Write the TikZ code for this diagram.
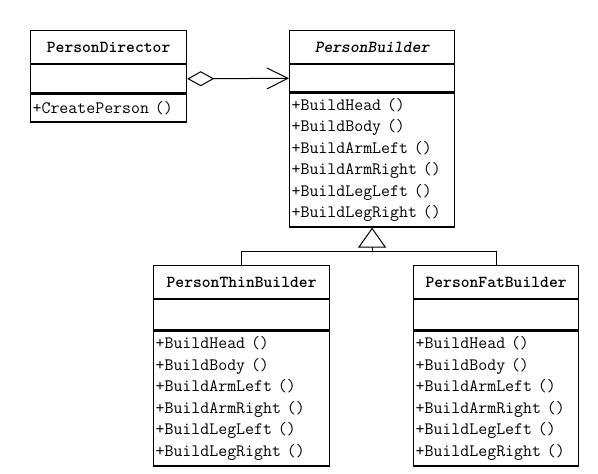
\documentclass[tikz,border=0pt]{standalone}
\usepackage{fontspec}
\newfontfamily\titlefont{lmmonolt10-bold.otf}[ItalicFont=lmmonolt10-boldoblique.otf]
\usetikzlibrary{arrows.meta,positioning}
\begin{document}
\begin{tikzpicture}[x=1pt,y=-1pt,
    part/.style={draw,line width=1.2pt,anchor=north west,inner sep=0pt,font=\fontsize{17.4}{21.5}\selectfont\ttfamily},
    namebox/.style={part,font=\fontsize{16.8}{21.5}\selectfont\titlefont},
    opsbox/.style={part,align=left,inner xsep=2pt},
    link/.style={line width=1pt}]
    \def\buildsteps{+BuildHead ()\\+BuildBody ()\\+BuildArmLeft ()\\+BuildArmRight ()\\+BuildLegLeft ()\\+BuildLegRight ()}
    \useasboundingbox[fill=white] (0,0) rectangle (598,474);
    % director
    \node[namebox,minimum width=156pt,minimum height=33pt] (dirName) at (30,30) {PersonDirector};
    \node[part,minimum width=156pt,minimum height=28pt,below=0pt of dirName] (dirAttr) {};
    \node[opsbox,text width=152pt,minimum height=28pt,below=0pt of dirAttr] (dirOps) {+CreatePerson ()};
    % abstract builder
    \node[namebox,minimum width=165pt,minimum height=33pt] (bldName) at (289,30) {\itshape PersonBuilder};
    \node[part,minimum width=165pt,minimum height=27pt,below=0pt of bldName] (bldAttr) {};
    \node[opsbox,text width=161pt,minimum height=134pt,below=0pt of bldAttr] (bldOps) {\buildsteps};
    % concrete builders
    \node[namebox,minimum width=176pt,minimum height=33pt] (thinName) at (153,265) {PersonThinBuilder};
    \node[part,minimum width=176pt,minimum height=30pt,below=0pt of thinName] (thinAttr) {};
    \node[opsbox,text width=172pt,minimum height=135pt,below=0pt of thinAttr] (thinOps) {\buildsteps};
    \node[namebox,minimum width=165pt,minimum height=33pt] (fatName) at (413,265) {PersonFatBuilder};
    \node[part,minimum width=165pt,minimum height=30pt,below=0pt of fatName] (fatAttr) {};
    \node[opsbox,text width=161pt,minimum height=135pt,below=0pt of fatAttr] (fatOps) {\buildsteps};
    % relations
    \draw[link,{Diamond[open,length=27pt,width=15pt]}-{Straight Barb[length=21pt,width=21pt]}] (dirAttr.east) -- (bldAttr.west);
    \coordinate (fork) at ([yshift=-24pt]bldOps.south);
    \draw[link] (thinName.north) |- (fork) -| (fatName.north);
    \draw[link,-{Triangle[open,length=20pt,width=28pt]}] (fork) -- (bldOps.south);
\end{tikzpicture}
\end{document}
